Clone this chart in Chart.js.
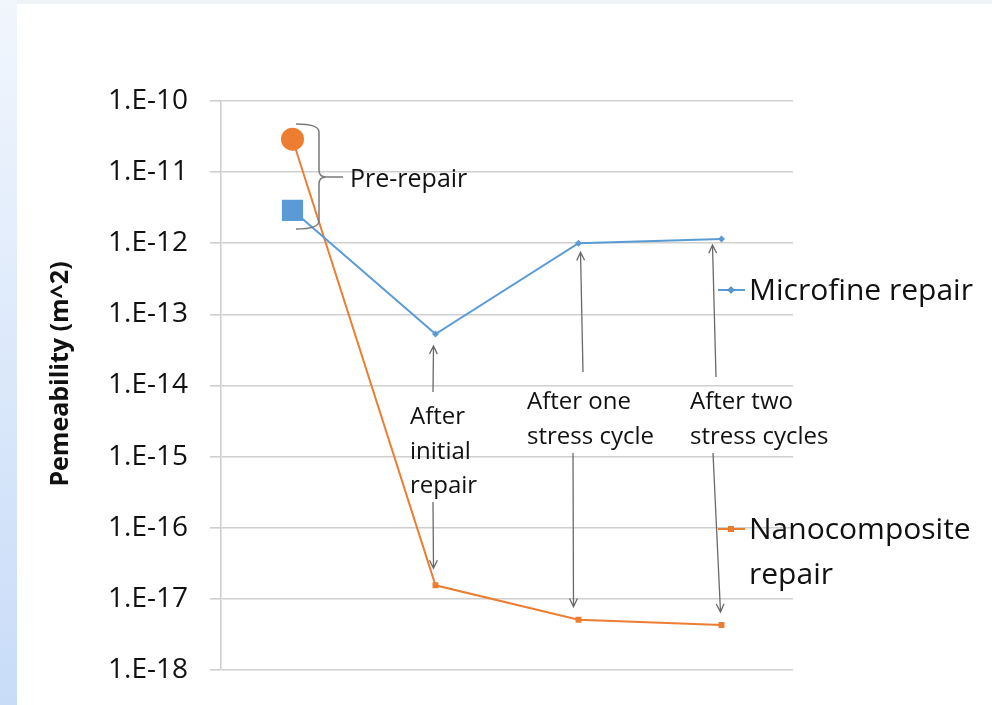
<!DOCTYPE html>
<html>
<head>
<meta charset="utf-8">
<script src="https://cdn.jsdelivr.net/npm/chart.js@4"></script>
<style>
  body { margin: 0; background: #fff; }
  #wrap { position: relative; width: 992px; height: 705px; overflow: hidden; background: #fff; }
  #strip { position: absolute; left: 0; top: 0; width: 17px; height: 705px; background: linear-gradient(#f1f6fd, #c8dcf8); }
  #topband { position: absolute; left: 17px; top: 0; width: 975px; height: 4px; background: #eef3f8; }
  canvas { position: absolute; left: 0; top: 0; }
</style>
</head>
<body>
<div id="wrap">
  <div id="strip"></div>
  <div id="topband"></div>
  <canvas id="chart" width="992" height="705"></canvas>
</div>
<script>
// donnees
const stages = ['Pre-repair', 'After initial repair', 'After one stress cycle', 'After two stress cycles'];
const microfine = [2.9e-12, 5.3e-14, 1.0e-12, 1.15e-12];
const nanocomposite = [2.9e-11, 1.55e-17, 5.1e-18, 4.3e-18];
const yTicks = [1e-18, 1e-17, 1e-16, 1e-15, 1e-14, 1e-13, 1e-12, 1e-11, 1e-10];
const yTickLabels = ['1.E-18', '1.E-17', '1.E-16', '1.E-15', '1.E-14', '1.E-13', '1.E-12', '1.E-11', '1.E-10'];

const BLUE = '#5b9bd5';
const ORANGE = '#ed7d31';
const TEXT = '#111';
const FONT = '"Open Sans", "Noto Sans", sans-serif';

// fleche avec pointe ouverte
function arrow(ctx, x1, y1, x2, y2) {
  const a = Math.atan2(y2 - y1, x2 - x1);
  const len = 9, w = 0.45;
  ctx.beginPath();
  ctx.moveTo(x1, y1);
  ctx.lineTo(x2, y2);
  ctx.moveTo(x2 - len * Math.cos(a - w), y2 - len * Math.sin(a - w));
  ctx.lineTo(x2, y2);
  ctx.lineTo(x2 - len * Math.cos(a + w), y2 - len * Math.sin(a + w));
  ctx.stroke();
}

const annotations = {
  id: 'annotations',
  afterDatasetsDraw(chart) {
    const ctx = chart.ctx;
    const blue = chart.getDatasetMeta(0).data;
    const orange = chart.getDatasetMeta(1).data;
    ctx.save();

    // titre axe Y
    ctx.fillStyle = TEXT;
    ctx.font = 'bold 25px ' + FONT;
    ctx.textAlign = 'center';
    ctx.textBaseline = 'middle';
    ctx.save();
    ctx.translate(61, 374);
    ctx.rotate(-Math.PI / 2);
    ctx.fillText('Pemeability (m^2)', 0, 0);
    ctx.restore();

    // accolade Pre-repair
    ctx.strokeStyle = '#7a7a7a';
    ctx.lineWidth = 1.5;
    ctx.beginPath();
    ctx.moveTo(296, 124);
    ctx.quadraticCurveTo(319, 124, 319, 132);
    ctx.lineTo(319, 170);
    ctx.quadraticCurveTo(319, 177, 326, 177);
    ctx.quadraticCurveTo(319, 177, 319, 184);
    ctx.lineTo(319, 221);
    ctx.quadraticCurveTo(319, 229, 296, 229);
    ctx.moveTo(326, 177);
    ctx.lineTo(343, 177);
    ctx.stroke();

    ctx.textAlign = 'left';
    ctx.font = '25px ' + FONT;
    ctx.fillText('Pre-repair', 350, 180);

    // textes des etapes
    ctx.font = '24px ' + FONT;
    [['After', 410, 417], ['initial', 410, 452], ['repair', 410, 486],
     ['After one', 527, 402], ['stress cycle', 527, 437],
     ['After two', 690, 402], ['stress cycles', 690, 437]].forEach(t => ctx.fillText(t[0], t[1], t[2]));

    // fleches vers les points
    ctx.strokeStyle = '#6a6a6a';
    ctx.lineWidth = 1.3;
    arrow(ctx, 433, 392, blue[1].x - 2, blue[1].y + 12);
    arrow(ctx, 433, 502, orange[1].x - 2, orange[1].y - 17);
    arrow(ctx, 583, 372, blue[2].x + 2, blue[2].y + 9);
    arrow(ctx, 573, 453, orange[2].x - 5, orange[2].y - 13);
    arrow(ctx, 716, 377, blue[3].x - 9, blue[3].y + 6);
    arrow(ctx, 713, 453, orange[3].x - 1, orange[3].y - 13);

    // legende
    const items = [
      { ds: chart.data.datasets[0], y: 290, lines: ['Microfine repair'] },
      { ds: chart.data.datasets[1], y: 529, lines: ['Nanocomposite', 'repair'] }
    ];
    items.forEach(it => {
      ctx.strokeStyle = it.ds.borderColor;
      ctx.lineWidth = 2;
      ctx.beginPath();
      ctx.moveTo(718, it.y);
      ctx.lineTo(745, it.y);
      ctx.stroke();
      Chart.helpers.drawPoint(ctx, {
        pointStyle: it.ds.pointStyle[1], radius: it.ds.pointRadius[1], rotation: 0, borderWidth: 0
      }, 731, it.y);
      ctx.fillStyle = it.ds.borderColor;
      ctx.fill();
      ctx.fillStyle = TEXT;
      ctx.font = '30px ' + FONT;
      it.lines.forEach((l, i) => ctx.fillText(l, 749, it.y + 1 + i * 45));
    });
    ctx.restore();
  }
};

new Chart(document.getElementById('chart'), {
  type: 'line',
  data: {
    labels: stages,
    datasets: [
      {
        label: 'Microfine repair',
        data: microfine,
        borderColor: BLUE,
        backgroundColor: BLUE,
        borderWidth: 2,
        pointStyle: ['rect', 'rectRot', 'rectRot', 'rectRot'],
        pointRadius: [15, 3.5, 3.5, 3.5],
        pointBorderWidth: 0,
        tension: 0
      },
      {
        label: 'Nanocomposite repair',
        data: nanocomposite,
        borderColor: ORANGE,
        backgroundColor: ORANGE,
        borderWidth: 2,
        pointStyle: ['circle', 'rect', 'rect', 'rect'],
        pointRadius: [11.5, 4.2, 4.2, 4.2],
        pointBorderWidth: 0,
        tension: 0
      }
    ]
  },
  options: {
    responsive: false,
    devicePixelRatio: 1,
    animation: false,
    layout: { autoPadding: false, padding: { left: 0, top: 101, right: 199, bottom: 35 } },
    plugins: {
      legend: { display: false },
      title: { display: false },
      tooltip: { enabled: false }
    },
    scales: {
      x: { type: 'category', display: false, offset: true },
      y: {
        type: 'logarithmic',
        min: 1e-18,
        max: 1e-10,
        afterBuildTicks: scale => { scale.ticks = yTicks.map(v => ({ value: v })); },
        afterFit: scale => { scale.width = 221; scale.paddingTop = 0; scale.paddingBottom = 0; },
        ticks: {
          padding: 22,
          color: TEXT,
          font: { family: FONT, size: 28 },
          callback: (v) => { const i = yTicks.findIndex(t => Math.abs(Math.log10(t) - Math.log10(v)) < 1e-6); return i >= 0 ? yTickLabels[i] : null; }
        },
        grid: { color: '#cfcfcf', lineWidth: 1.6, tickLength: 11 },
        border: { color: '#cfcfcf', width: 1.6 }
      }
    }
  },
  plugins: [annotations]
});
</script>
</body>
</html>
